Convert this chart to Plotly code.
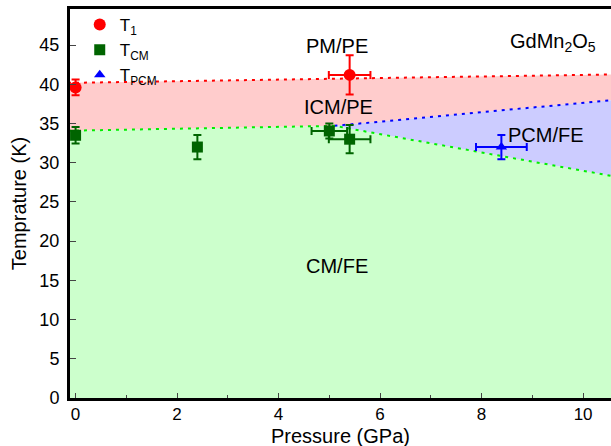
import plotly.graph_objects as go

# ---- data ----
t1_p = [0.0, 5.4]
t1_t = [39.6, 41.2]
t1_perr = [0.0, 0.41]
t1_terr = [1.0, 2.5]

tcm_p = [0.0, 2.4, 5.0, 5.4]
tcm_t = [33.5, 32.0, 34.05, 33.0]
tcm_perr = [0.0, 0.0, 0.35, 0.41]
tcm_terr = [1.05, 1.55, 0.95, 1.8]

tpcm_p = [8.39]
tpcm_t = [32.0]
tpcm_perr = [0.5]
tpcm_terr = [1.55]

# phase boundaries
red_bx = [-0.15, 10.6]
red_by = [40.18, 41.26]
green_bx = [-0.15, 5.1, 10.6]
green_by = [34.08, 34.7, 28.27]
blue_bx = [5.1, 10.6]
blue_by = [34.7, 38.0]

x_ticks = [0, 2, 4, 6, 8, 10]
y_ticks = [0, 5, 10, 15, 20, 25, 30, 35, 40, 45]

FONT = "Liberation Sans, Arial, Helvetica, sans-serif"

fig = go.Figure()

# fills
fig.add_trace(go.Scatter(x=green_bx, y=green_by, mode="lines", line=dict(width=0),
                         fill="tozeroy", fillcolor="#ccffcc", showlegend=False, hoverinfo="skip"))
pink_x = green_bx[:2] + blue_bx[1:] + red_bx[::-1]
pink_y = green_by[:2] + blue_by[1:] + red_by[::-1]
fig.add_trace(go.Scatter(x=pink_x, y=pink_y, mode="lines", line=dict(width=0),
                         fill="toself", fillcolor="#ffcccc", showlegend=False, hoverinfo="skip"))
lav_x = blue_bx + green_bx[2:][::-1]
lav_y = blue_by + green_by[2:][::-1]
fig.add_trace(go.Scatter(x=lav_x, y=lav_y, mode="lines", line=dict(width=0),
                         fill="toself", fillcolor="#ccccff", showlegend=False, hoverinfo="skip"))

# dotted boundaries
fig.add_trace(go.Scatter(x=red_bx, y=red_by, mode="lines",
                         line=dict(color="#ff0000", width=2, dash="3px,5px"), showlegend=False))
fig.add_trace(go.Scatter(x=blue_bx, y=blue_by, mode="lines",
                         line=dict(color="#0000ff", width=2, dash="3px,5px"), showlegend=False))
fig.add_trace(go.Scatter(x=green_bx, y=green_by, mode="lines",
                         line=dict(color="#00ee00", width=2, dash="3px,5px"), showlegend=False))

# data points
fig.add_trace(go.Scatter(
    x=t1_p, y=t1_t, mode="markers", name="T<sub>1</sub>",
    marker=dict(symbol="circle", size=12, color="#ff0000"),
    error_x=dict(type="data", array=t1_perr, color="#ff0000", thickness=2, width=4),
    error_y=dict(type="data", array=t1_terr, color="#ff0000", thickness=2, width=4)))
fig.add_trace(go.Scatter(
    x=tcm_p, y=tcm_t, mode="markers", name="T<sub>CM</sub>",
    marker=dict(symbol="square", size=11, color="#006400"),
    error_x=dict(type="data", array=tcm_perr, color="#006400", thickness=2, width=4),
    error_y=dict(type="data", array=tcm_terr, color="#006400", thickness=2, width=4)))
fig.add_trace(go.Scatter(
    x=tpcm_p, y=tpcm_t, mode="markers", name="T<sub>PCM</sub>",
    marker=dict(symbol="triangle-up", size=10, color="#0000ff"),
    error_x=dict(type="data", array=tpcm_perr, color="#0000ff", thickness=2, width=4),
    error_y=dict(type="data", array=tpcm_terr, color="#0000ff", thickness=2, width=4)))

# region labels
labels = [("PM/PE", 5.15, 44.9), ("ICM/PE", 5.19, 37.1), ("PCM/FE", 9.27, 33.5),
          ("CM/FE", 5.15, 16.8), ("GdMn<sub>2</sub>O<sub>5</sub>", 9.4, 45.3)]
for txt, lx, ly in labels:
    fig.add_annotation(x=lx, y=ly, text=txt, showarrow=False,
                       font=dict(family=FONT, size=20, color="black"))

# x-axis title as annotation placed just under the tick labels
fig.add_annotation(x=0.5, y=0, xref="paper", yref="paper", xanchor="center",
                   yanchor="top", yshift=-26, text="Pressure (GPa)", showarrow=False,
                   borderpad=0, font=dict(family=FONT, size=20, color="black"))

fig.update_layout(
    width=611, height=446,
    margin=dict(l=70, r=0, t=9, b=48),
    plot_bgcolor="white", paper_bgcolor="white",
    font=dict(family=FONT, size=18, color="black"),
    legend=dict(x=0.018, y=1.005, xanchor="left", yanchor="top",
                bgcolor="rgba(0,0,0,0)", font=dict(size=17), tracegroupgap=0),
    xaxis=dict(range=[-0.11, 10.55], tickvals=x_ticks, ticks="inside", ticklen=5,
               tickwidth=1, showgrid=False, zeroline=False, showline=True,
               linecolor="black", linewidth=3, mirror=True, ticklabelstandoff=-1,
               tickfont=dict(size=17),
               minor=dict(ticks="inside", ticklen=3, dtick=1, tick0=0, showgrid=False)),
    yaxis=dict(range=[0, 49.6], tickvals=y_ticks, ticks="inside", ticklen=6,
               tickwidth=1, showgrid=False, zeroline=False, showline=True,
               linecolor="black", linewidth=3, ticklabelstandoff=4,
               title=dict(text="Temprature (K)", font=dict(size=20), standoff=8)),
)

fig.write_html("out.html", config={"displayModeBar": False},
               post_script="document.body.style.margin='0';document.body.style.overflow='hidden';")
